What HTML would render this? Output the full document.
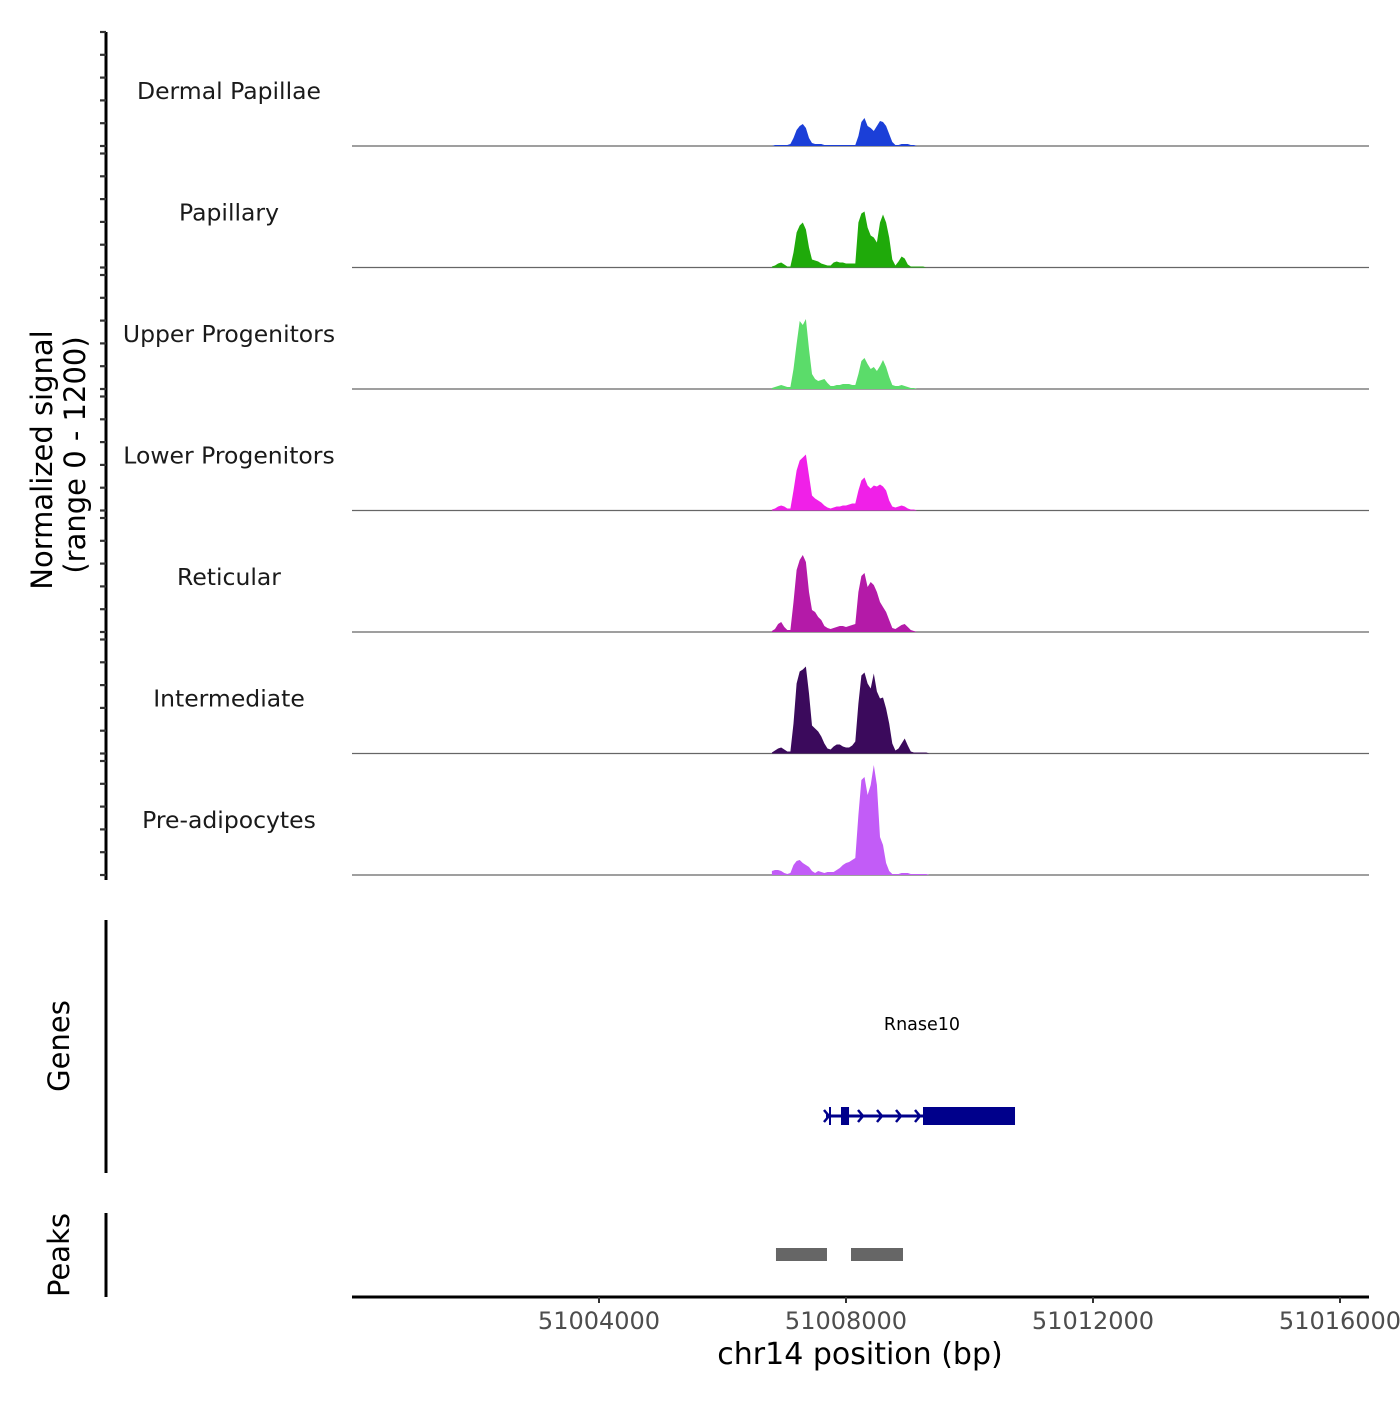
<!DOCTYPE html>
<html><head><meta charset="utf-8"><style>
body{margin:0;background:#fff}
svg text{font-family:"DejaVu Sans","Liberation Sans",sans-serif}
</style></head><body>
<svg id="c" width="1400" height="1400" xmlns="http://www.w3.org/2000/svg"></svg>
<script>
const trackNames=["Dermal Papillae","Papillary","Upper Progenitors","Lower Progenitors","Reticular","Intermediate","Pre-adipocytes"];
const trackColors=["#1b3fd8","#1faa0a","#5bdc6a","#f020e8","#b41aa8","#3b0a5c","#c25cf7"];
const gridStartBp=51006800, gridStepBp=50;
const sigDermal=[0,10,10,10,10,10,20,80,160,200,220,180,80,30,20,20,20,10,10,10,10,10,10,10,10,10,10,10,100,240,280,200,180,150,200,250,240,200,120,40,10,10,20,20,20,10,10,0,0,0,0,0,0];
const sigPapillary=[10,20,40,50,30,10,10,150,350,420,450,380,200,80,70,60,40,30,20,20,50,60,50,50,40,40,40,40,450,540,560,400,320,300,250,450,530,450,300,80,20,60,110,90,30,10,10,10,10,10,0,0,0];
const sigUpper=[10,20,30,40,30,20,20,200,450,680,640,700,400,150,100,80,90,100,60,30,30,40,40,50,50,50,40,40,150,280,310,250,200,220,180,230,290,220,120,40,30,30,40,30,20,10,10,0,0,0,0,0,0];
const sigLower=[10,20,40,50,40,20,20,200,400,500,530,560,350,150,120,100,80,50,30,20,30,40,40,50,50,60,70,70,200,300,330,250,220,250,240,260,240,200,100,40,30,40,50,40,20,10,10,0,0,0,0,0,0];
const sigReticular=[10,30,80,100,50,20,20,300,620,720,770,700,400,220,200,150,120,60,40,30,40,50,60,60,50,60,70,80,400,560,590,450,500,470,400,300,250,200,120,40,30,50,70,80,50,20,10,0,0,0,0,0,0];
const sigIntermediate=[10,30,50,60,40,20,20,300,700,820,840,870,600,280,250,220,170,100,50,40,70,90,90,70,60,60,80,120,500,780,810,700,650,800,620,550,560,450,300,100,30,50,100,150,80,20,10,10,10,10,10,0,0];
const sigPreadipocytes=[40,50,50,40,20,10,20,100,140,150,120,100,80,40,20,40,30,20,30,30,30,50,70,100,120,130,150,170,600,950,980,800,900,1100,900,380,300,120,40,10,10,10,20,20,20,10,10,10,10,10,10,0,0];
const signals=[sigDermal,sigPapillary,sigUpper,sigLower,sigReticular,sigIntermediate,sigPreadipocytes];
const xTicks=[51004000,51008000,51012000,51016000];
const geneExons=[[51007919,51008049],[51009247,51010737]];
const geneStart=51007676, geneEnd=51010737;
const peakRegions=[[51006866,51007692],[51008081,51008923]];

const NS="http://www.w3.org/2000/svg";
const svg=document.getElementById('c');
function mk(t,a,p){const e=document.createElementNS(NS,t);for(const k in a)e.setAttribute(k,a[k]);(p||svg).appendChild(e);return e;}
const X0=352,X1=1369,BP0=51000000,PX=0.06175;
const xs=bp=>X0+(bp-BP0)*PX;
const trackH=121.5, firstBase=146, trackMax=1140, trackPx=114;
const ys=(v,i)=>firstBase+i*trackH - v/trackMax*trackPx;

let ax=mk('line',{x1:106,y1:32,x2:106,y2:880,stroke:'#000','stroke-width':3});


for(let i=0;i<7;i++){
  const base=firstBase+i*trackH;
  for(let k=0;k<=5;k++){
    const y=base-k*22.8;
    const t=mk('line',{x1:100,y1:y,x2:106,y2:y,stroke:'#333','stroke-width':2.2});
    
    
  }
  const lab=mk('text',{x:229,y:base-47,'text-anchor':'middle','font-size':23.5,fill:'#1a1a1a'});
  lab.textContent=trackNames[i];
  
  
  const bl=mk('line',{x1:X0,y1:base,x2:X1,y2:base,stroke:'#666','stroke-width':1.2});
  
  
  let d=`M${xs(gridStartBp)},${base}`;
  signals[i].forEach((v,j)=>{d+=` L${xs(gridStartBp+j*gridStepBp).toFixed(1)},${ys(v,i).toFixed(1)}`;});
  d+=` L${xs(gridStartBp+(signals[i].length-1)*gridStepBp)},${base} Z`;
  const p=mk('path',{d:d,fill:trackColors[i]});
  
  
}
const yt=mk('text',{transform:'translate(52,460) rotate(-90)','text-anchor':'middle','font-size':29,fill:'#000'});
yt.textContent='Normalized signal';


const yt2=mk('text',{transform:'translate(85,455) rotate(-90)','text-anchor':'middle','font-size':29,fill:'#000'});
yt2.textContent='(range 0 - 1200)';



const ga=mk('line',{x1:106,y1:920,x2:106,y2:1173,stroke:'#000','stroke-width':3});


const gt=mk('text',{transform:'translate(69,1046) rotate(-90)','text-anchor':'middle','font-size':29,fill:'#000'});
gt.textContent='Genes';


const gl=mk('line',{x1:xs(geneStart),y1:1116,x2:xs(geneEnd),y2:1116,stroke:'#00008b','stroke-width':3});


const tick=mk('line',{x1:xs(geneStart)+4,y1:1107,x2:xs(geneStart)+4,y2:1125,stroke:'#00008b','stroke-width':2});


[xs(geneStart)+3,xs(geneStart)+37,xs(geneStart)+56,xs(geneStart)+75,xs(geneStart)+94].forEach(x=>{
  const a=mk('path',{d:`M${x-5},${1110} L${x},${1116} L${x-5},${1122}`,fill:'none',stroke:'#00008b','stroke-width':2.5});
  
  
});
geneExons.forEach(e=>{
  const r=mk('rect',{x:xs(e[0]),y:1107,width:xs(e[1])-xs(e[0]),height:18,fill:'#00008b'});
  
  
});
const gn=mk('text',{x:922,y:1030,'text-anchor':'middle','font-size':17.5,fill:'#000'});
gn.textContent='Rnase10';



const pa=mk('line',{x1:106,y1:1213,x2:106,y2:1297,stroke:'#000','stroke-width':3});


const pt=mk('text',{transform:'translate(69,1255) rotate(-90)','text-anchor':'middle','font-size':29,fill:'#000'});
pt.textContent='Peaks';


peakRegions.forEach(p=>{
  const r=mk('rect',{x:xs(p[0]),y:1248,width:xs(p[1])-xs(p[0]),height:13,fill:'#666'});
  
  
});

const xa=mk('line',{x1:X0,y1:1297,x2:X1,y2:1297,stroke:'#000','stroke-width':3});


xTicks.forEach(v=>{
  const t=mk('line',{x1:xs(v),y1:1297,x2:xs(v),y2:1303,stroke:'#333','stroke-width':2});
  
  
  const l=mk('text',{x:xs(v),y:1329,'text-anchor':'middle','font-size':24,fill:'#4d4d4d'});
  l.textContent=String(v);
  
  
});
const xt=mk('text',{x:860,y:1364,'text-anchor':'middle','font-size':30,fill:'#000'});
xt.textContent='chr14 position (bp)';


</script>
</body></html>
